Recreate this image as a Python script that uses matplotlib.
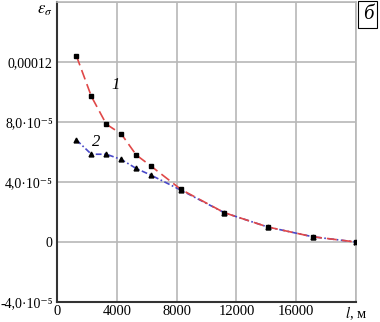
import numpy as np
import matplotlib
matplotlib.use('Agg')
from matplotlib import pyplot as plt

plt.rcParams['font.family'] = ['Liberation Serif', 'DejaVu Serif']
plt.rcParams['mathtext.fontset'] = 'stix'

# curve 1 (red dashed, squares)
l1 = [1300, 2300, 3300, 4300, 5300, 6300, 8300, 11200, 14100, 17100, 20000]
eps1 = [12.4e-5, 9.7e-5, 7.85e-5, 7.2e-5, 5.8e-5, 5.05e-5, 3.5e-5, 1.95e-5, 1.0e-5, 0.35e-5, 0.0]
# curve 2 (blue dash-dot, triangles)
l2 = [1300, 2300, 3300, 4300, 5300, 6300, 8300, 11200, 14100, 17100, 20000]
eps2 = [6.8e-5, 5.85e-5, 5.85e-5, 5.5e-5, 4.9e-5, 4.45e-5, 3.45e-5, 1.95e-5, 1.0e-5, 0.35e-5, 0.0]

xticks = [0, 4000, 8000, 12000, 16000, 20000]
xlabels = ['0', '4000', '8000', '12000', '16000', r'$l$, м']
yticks = [-4e-5, 0, 4e-5, 8e-5, 12e-5, 16e-5]
ylabels = ['-4,0·10⁻⁵', '0', '4,0·10⁻⁵', '8,0·10⁻⁵', '0,00012', r'$\varepsilon_\sigma$']

fig = plt.figure(figsize=(3.8, 3.22), dpi=100)
ax = fig.add_axes([0.150, 0.062, 0.787, 0.932])

ax.plot(l1, eps1, color='#e04848', ls=(0, (6, 3)), lw=1.2,
        marker='s', ms=2.5, mfc='black', mec='black', zorder=3)
ax.plot(l2, eps2, color='#4848c8', ls=(0, (3.5, 1.5, 1, 1.5)), lw=1.2,
        marker='^', ms=3.5, mfc='black', mec='black', zorder=2)

ax.set_xlim(0, 20000)
ax.set_ylim(-4e-5, 16e-5)
ax.set_xticks(xticks)
ax.set_xticklabels(xlabels)
ax.set_yticks(yticks)
ax.set_yticklabels(ylabels)
ax.tick_params(axis='x', length=0, labelsize=10.5, pad=2)
ax.tick_params(axis='y', length=0, labelsize=10, pad=3)
ax.get_yticklabels()[-1].set_verticalalignment('top')
ax.get_yticklabels()[-1].set_fontsize(12)
ax.grid(True, color='#b8b8b8', lw=1.2)
ax.set_axisbelow(True)

for s in ['top', 'right']:
    ax.spines[s].set_color('#b8b8b8')
    ax.spines[s].set_linewidth(1.2)
for s in ['left', 'bottom']:
    ax.spines[s].set_color('#333333')
    ax.spines[s].set_linewidth(1.5)

ax.text(3650, 10.2e-5, '1', fontsize=12, style='italic')
ax.text(2350, 6.4e-5, '2', fontsize=12, style='italic')

fig.text(0.968, 0.955, 'б', fontsize=15, style='italic', ha='center', va='center',
         bbox=dict(boxstyle='square,pad=0.2', fc='white', ec='black', lw=0.8))

fig.savefig('out.png', dpi=100)
